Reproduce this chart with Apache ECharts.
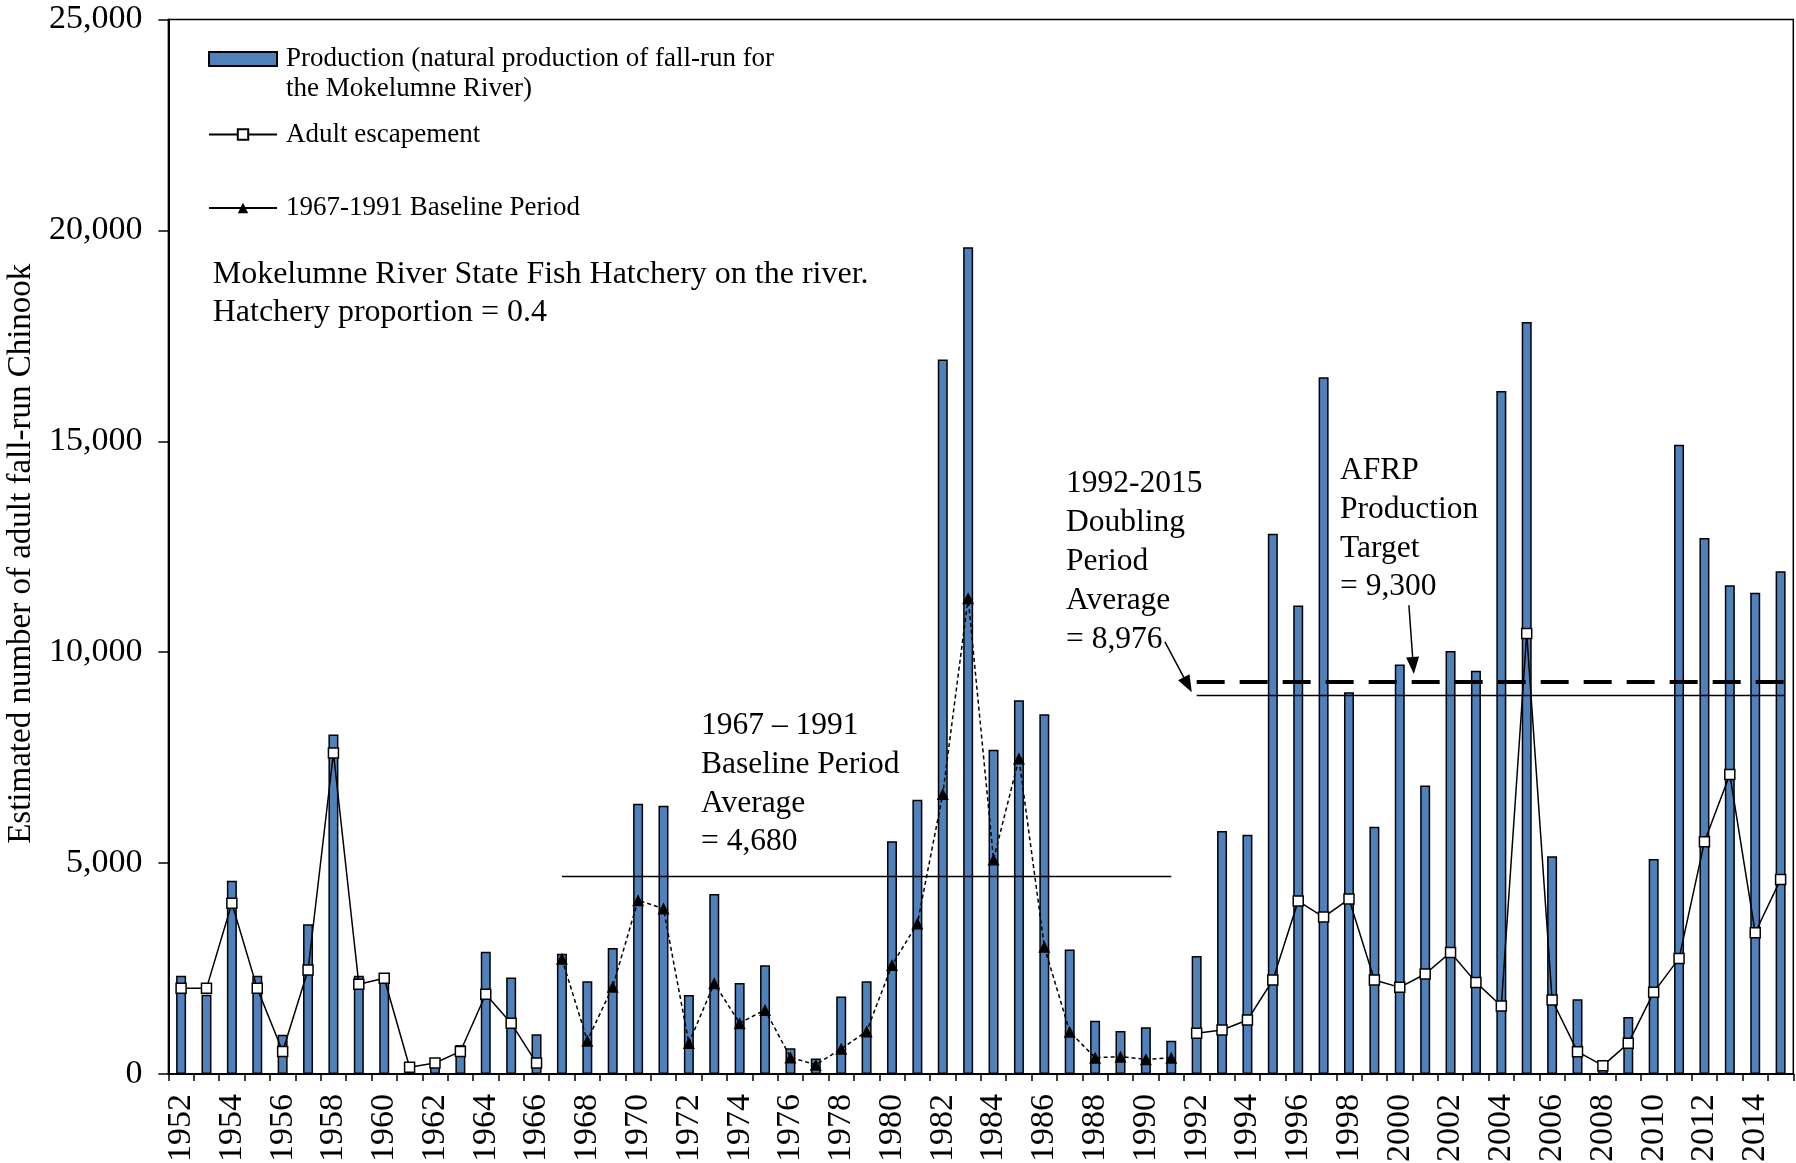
<!DOCTYPE html>
<html>
<head>
<meta charset="utf-8">
<script src="https://cdn.jsdelivr.net/npm/echarts@6/dist/echarts.min.js"></script>
<style>
  html, body { margin: 0; padding: 0; background: #fff; }
  #chart { width: 1796px; height: 1163px; }
</style>
</head>
<body>
<div id="chart"></div>
<script>
// Mokelumne River fall-run Chinook, production vs escapement
const years = [
  '1952','1953','1954','1955','1956','1957','1958','1959','1960','1961',
  '1962','1963','1964','1965','1966','1967','1968','1969','1970','1971',
  '1972','1973','1974','1975','1976','1977','1978','1979','1980','1981',
  '1982','1983','1984','1985','1986','1987','1988','1989','1990','1991',
  '1992','1993','1994','1995','1996','1997','1998','1999','2000','2001',
  '2002','2003','2004','2005','2006','2007','2008','2009','2010','2011',
  '2012','2013','2014','2015'
];

// natural production (bars)
const production = [
  2330, 1880, 4580, 2330, 930, 3550, 8050, 2330, 2300, 50,
  200, 690, 2900, 2290, 940, 2850, 2200, 2990, 6410, 6360,
  1870, 4270, 2160, 2580, 610, 370, 1840, 2200, 5520, 6500,
  16940, 19600, 7690, 8860, 8530, 2950, 1260, 1020, 1110, 790,
  2800, 5760, 5670, 12810, 11110, 16520, 9050, 5860, 9710, 6840,
  10030, 9560, 16190, 17830, 5160, 1770, 150, 1350, 5100, 14920,
  12710, 11590, 11410, 11920
];

// adult escapement (open squares), not drawn in the baseline years
const escapement = [
  2030, 2030, 4050, 2030, 535, 2465, 7610, 2130, 2270, 160,
  260, 535, 1890, 1205, 260, null, null, null, null, null,
  null, null, null, null, null, null, null, null, null, null,
  null, null, null, null, null, null, null, null, null, null,
  964, 1043, 1280, 2227, 4100, 3720, 4147, 2227, 2054, 2370,
  2883, 2172, 1611, 10443, 1754, 529, 198, 727, 1936, 2741,
  5505, 7102, 3349, 4614
];

// 1967-1991 baseline escapement (triangles)
const baseline = [
  null, null, null, null, null, null, null, null, null, null,
  null, null, null, null, null, 2730, 790, 2071, 4118, 3921,
  732, 2150, 1205, 1520, 394, 220, 598, 1008, 2583, 3567,
  6638, 11280, 5088, 7480, 3017, 1003, 387, 411, 348, 387,
  null, null, null, null, null, null, null, null, null, null,
  null, null, null, null, null, null, null, null, null, null,
  null, null, null, null
];

const baselineAvg = 4680;
const doublingAvg = 8976;
const afrpTarget = 9300;

// arrow annotations: [x index, value] start -> end
const arrowDoubling = [[38.75, 10244], [39.65, 9227]];
const arrowTarget = [[48.36, 11114], [48.53, 9685]];

const FONT = '"Liberation Serif", "Times New Roman", "DejaVu Serif", serif';
const barName = 'Production (natural production of fall-run for\nthe Mokelumne River)';

const iA = years.indexOf('1967');
const iB = years.indexOf('1991');
const iC = years.indexOf('1992');
const iD = years.indexOf('2015');

const chart = echarts.init(document.getElementById('chart'));

const legendText = { fontFamily: FONT, fontSize: 27, color: '#000', lineHeight: 30, padding: [0, 0, 0, 4] };

const option = {
  backgroundColor: '#fff',
  animation: false,
  textStyle: { fontFamily: FONT, color: '#000' },
  grid: {
    left: 168.4, right: 2.7, top: 19.5, bottom: 89,
    show: true, borderColor: '#000', borderWidth: 1.5,
    outerBoundsMode: 'none', containLabel: false
  },
  legend: [
    {
      data: [barName], orient: 'vertical', left: 208, top: 14, padding: 0,
      itemWidth: 68, itemHeight: 14, selectedMode: false, icon: 'rect',
      // blank first line keeps the swatch level with the first text line
      formatter: n => ' \n' + n,
      textStyle: legendText
    },
    {
      data: ['Adult escapement'], orient: 'vertical', left: 208, top: 119.5, padding: 0,
      itemWidth: 68, itemHeight: 13, selectedMode: false,
      textStyle: legendText
    },
    {
      data: ['1967-1991 Baseline Period'], orient: 'vertical', left: 208, top: 193, padding: 0,
      itemWidth: 68, itemHeight: 13, selectedMode: false,
      lineStyle: { type: 'solid' },
      textStyle: legendText
    }
  ],
  xAxis: [
    {
      type: 'category',
      data: years,
      axisLine: { onZero: false, lineStyle: { color: '#000', width: 2 } },
      axisTick: { show: true, interval: 0, length: 7, lineStyle: { color: '#000', width: 1.5 } },
      axisLabel: {
        interval: 1, rotate: 90, fontSize: 34, fontFamily: FONT, color: '#000', margin: 20
      },
      splitLine: { show: false }
    },
    {
      // hidden helper axis for annotation lines (index units)
      type: 'value', min: -0.5, max: 63.5, show: false,
      splitLine: { show: false }
    }
  ],
  yAxis: {
    type: 'value',
    min: 0, max: 25000, interval: 5000,
    name: 'Estimated number of adult fall-run Chinook',
    nameLocation: 'middle',
    nameGap: 125,
    nameTextStyle: { fontSize: 33, fontFamily: FONT, color: '#000', padding: [0, 14, 0, 0] },
    axisLine: { show: true, onZero: false, lineStyle: { color: '#000', width: 2 } },
    axisTick: { show: true, length: 10, lineStyle: { color: '#000', width: 1.5 } },
    axisLabel: {
      fontSize: 34, fontFamily: FONT, color: '#000', margin: 26,
      formatter: v => v.toLocaleString('en-US')
    },
    splitLine: { show: false }
  },
  series: [
    {
      name: barName,
      type: 'bar',
      data: production,
      barWidth: 10,
      itemStyle: { color: '#4F81BD', borderColor: '#000', borderWidth: 1.5 },
      z: 2
    },
    {
      name: 'Adult escapement',
      type: 'line',
      data: escapement,
      symbol: 'rect',
      symbolSize: 10,
      showAllSymbol: true,
      connectNulls: false,
      itemStyle: { color: '#fff', borderColor: '#000', borderWidth: 1.5 },
      lineStyle: { color: '#000', width: 1.5 },
      z: 4
    },
    {
      name: '1967-1991 Baseline Period',
      type: 'line',
      data: baseline,
      symbol: 'triangle',
      symbolSize: 12,
      showAllSymbol: true,
      connectNulls: false,
      itemStyle: { color: '#000' },
      lineStyle: { color: '#000', width: 1.5, type: [4, 3] },
      z: 4
    },
    {
      name: 'annotations',
      type: 'line',
      xAxisIndex: 1,
      data: [],
      symbol: 'none',
      z: 5,
      markLine: {
        silent: true,
        symbol: ['none', 'none'],
        label: { show: false },
        data: [
          [{ coord: [iA, baselineAvg], lineStyle: { color: '#000', width: 1.3, type: 'solid' } },
           { coord: [iB, baselineAvg] }],
          [{ coord: [iC, doublingAvg], lineStyle: { color: '#000', width: 1.3, type: 'solid' } },
           { coord: [iD + 0.15, doublingAvg] }],
          [{ coord: [iC, afrpTarget], lineStyle: { color: '#000', width: 4, type: [28, 15] } },
           { coord: [iD + 0.15, afrpTarget] }],
          [{ coord: arrowDoubling[0], lineStyle: { color: '#000', width: 1.5, type: 'solid' } },
           { coord: arrowDoubling[1], symbol: 'triangle', symbolSize: [13, 17] }],
          [{ coord: arrowTarget[0], lineStyle: { color: '#000', width: 1.5, type: 'solid' } },
           { coord: arrowTarget[1], symbol: 'triangle', symbolSize: [13, 17] }]
        ]
      }
    }
  ],
  graphic: [
    {
      type: 'text', x: 212.7, y: 256,
      style: {
        text: 'Mokelumne River State Fish Hatchery on the river.\nHatchery proportion = 0.4',
        font: '32px ' + FONT, fill: '#000', lineHeight: 37.6, align: 'left', verticalAlign: 'top'
      }
    },
    {
      type: 'text', x: 701, y: 706.5,
      style: {
        text: '1967 \u2013 1991\nBaseline Period\nAverage\n= 4,680',
        font: '31.5px ' + FONT, fill: '#000', lineHeight: 38.7, align: 'left', verticalAlign: 'top'
      }
    },
    {
      type: 'text', x: 1066, y: 464,
      style: {
        text: '1992-2015\nDoubling\nPeriod\nAverage\n= 8,976',
        font: '31.5px ' + FONT, fill: '#000', lineHeight: 39, align: 'left', verticalAlign: 'top'
      }
    },
    {
      type: 'text', x: 1340, y: 451,
      style: {
        text: 'AFRP\nProduction\nTarget\n= 9,300',
        font: '31.5px ' + FONT, fill: '#000', lineHeight: 38.9, align: 'left', verticalAlign: 'top'
      }
    }
  ]
};

chart.setOption(option);
</script>
</body>
</html>
